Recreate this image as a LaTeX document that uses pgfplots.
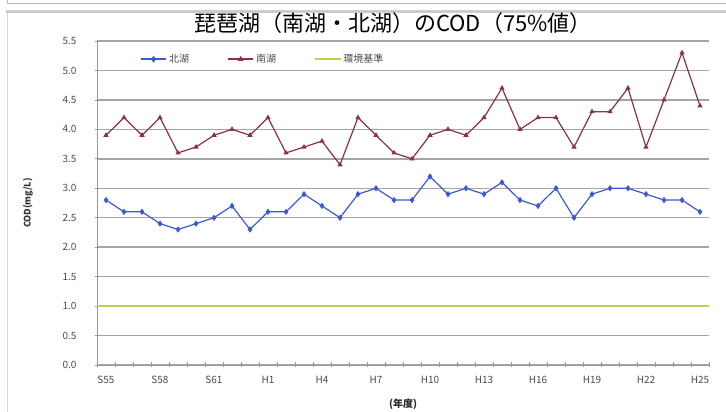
\documentclass[border=0pt]{standalone}
\usepackage{pgfplots}
\pgfplotsset{compat=1.18}
\usepackage{fontspec}
\setmainfont{Noto Sans CJK JP}
\definecolor{bluec}{RGB}{60,90,215}
\definecolor{redc}{RGB}{140,50,70}
\definecolor{greenc}{RGB}{185,210,80}
\definecolor{gridc}{RGB}{165,165,165}
\begin{document}
\begin{tikzpicture}[x=1pt,y=1pt]
\useasboundingbox (0,0) rectangle (726,412);
\fill[white] (0,0) rectangle (726,412);
\draw[gray!55, line width=0.8pt] (7,415) -- (7,409) -- (740,409);
\draw[gray!30, line width=0.8pt] (7,-5) -- (7,400);
\draw[gray!40, line width=3pt] (6,400) -- (740,400);
\node[font=\fontsize{22}{25}\selectfont] at (393,389) {琵琶湖（南湖・北湖）のCOD（75\%値）};
\begin{axis}[
  at={(97pt,47pt)}, anchor=south west, scale only axis,
  width=612pt, height=324pt,
  xmin=-0.5, xmax=33.5, ymin=0, ymax=5.5,
  axis lines*=left,
  axis line style={gray!80, line width=0.9pt},
  ytick={0,0.5,1,1.5,2,2.5,3,3.5,4,4.5,5,5.5},
  yticklabel style={/pgf/number format/fixed, /pgf/number format/fixed zerofill, /pgf/number format/precision=1, font=\fontsize{10}{11}\selectfont, text=black!70, xshift=-15pt},
  /pgf/number format/assume math mode=true,
  ymajorgrids, grid style={gridc, line width=1.4pt},
  xtick={0,3,...,33},
  xticklabels={S55,S58,S61,H1,H4,H7,H10,H13,H16,H19,H22,H25},
  xticklabel style={font=\fontsize{10}{11}\selectfont, text=black!70, yshift=-6pt},
  minor xtick={-0.5,0.5,...,33.5},
  major x tick style={draw=none},
  minor x tick style={gray!80, line width=0.7pt},
  minor tick length=5pt,
  major y tick style={gray!80, line width=0.7pt},
  major tick length=4pt,
  tick align=center,
  ylabel={COD(mg/L)},
  ylabel style={at={(axis description cs:-0.113,0.5)}, anchor=center, font=\bfseries\fontsize{9}{10}\selectfont, text=black!80},
  xlabel={(年度)},
  xlabel style={at={(axis description cs:0.5,-0.12)}, anchor=center, font=\bfseries\fontsize{10}{11}\selectfont, text=black!85},
  legend style={at={(0.065,0.972)}, anchor=north west, draw=none, fill=none, font=\fontsize{10}{11}\selectfont, text=black!70, /tikz/every even column/.append style={column sep=36pt}},
  legend columns=3,
  legend image post style={line width=1.5pt},
  legend image code/.code={\draw[mark repeat=2,mark phase=2,#1] plot coordinates {(0cm,0cm) (0.45cm,0cm) (0.9cm,0cm)};},
]
\addplot[color=bluec, line width=1.2pt, mark=diamond*, mark size=2.2pt] coordinates {
(0,2.8) (1,2.6) (2,2.6) (3,2.4) (4,2.3) (5,2.4) (6,2.5) (7,2.7) (8,2.3) (9,2.6)
(10,2.6) (11,2.9) (12,2.7) (13,2.5) (14,2.9) (15,3.0) (16,2.8) (17,2.8) (18,3.2) (19,2.9)
(20,3.0) (21,2.9) (22,3.1) (23,2.8) (24,2.7) (25,3.0) (26,2.5) (27,2.9) (28,3.0) (29,3.0)
(30,2.9) (31,2.8) (32,2.8) (33,2.6)};
\addlegendentry{北湖}
\addplot[color=redc, line width=1.2pt, mark=triangle*, mark size=1.9pt] coordinates {
(0,3.9) (1,4.2) (2,3.9) (3,4.2) (4,3.6) (5,3.7) (6,3.9) (7,4.0) (8,3.9) (9,4.2)
(10,3.6) (11,3.7) (12,3.8) (13,3.4) (14,4.2) (15,3.9) (16,3.6) (17,3.5) (18,3.9) (19,4.0)
(20,3.9) (21,4.2) (22,4.7) (23,4.0) (24,4.2) (25,4.2) (26,3.7) (27,4.3) (28,4.3) (29,4.7)
(30,3.7) (31,4.5) (32,5.3) (33,4.4)};
\addlegendentry{南湖}
\addplot[color=greenc, line width=1.8pt] coordinates {(-0.5,1.0) (33.5,1.0)};
\addlegendentry{環境基準}
\end{axis}
\end{tikzpicture}
\end{document}
